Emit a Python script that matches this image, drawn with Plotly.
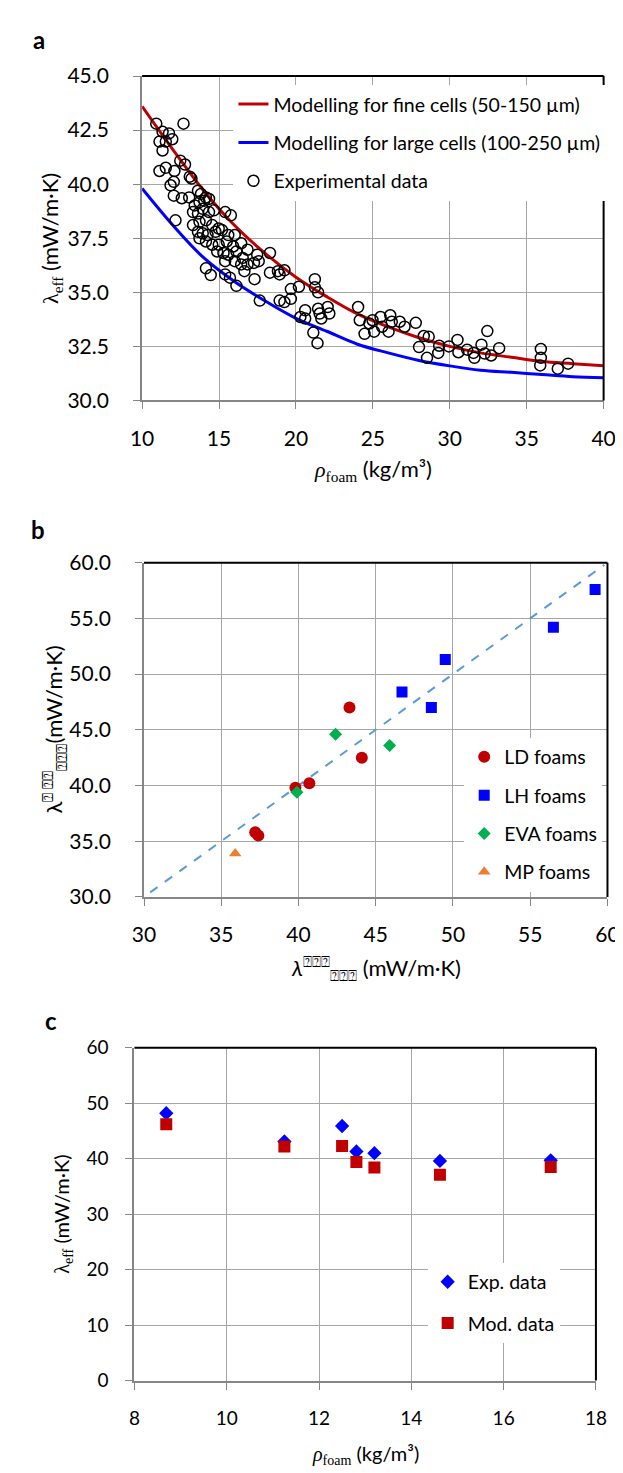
import plotly.graph_objects as go

W, H = 623, 1473

# ---- panel a: density vs effective conductivity ----
rho_exp = [10.92, 12.69, 11.33, 11.75, 11.96, 11.13, 11.54, 11.33, 12.48, 12.79,
           11.13, 11.54, 12.10, 13.10, 13.21, 11.85, 12.06, 12.06, 12.58, 13.06,
           13.63, 13.83, 14.15, 13.42, 13.73, 14.04, 14.35, 13.31, 13.63, 13.94,
           14.35, 14.67, 15.40, 15.77, 12.17, 13.31, 13.73, 14.15, 14.56, 14.98,
           13.63, 13.94, 14.25, 14.77, 15.19, 15.60, 16.02, 13.73, 14.15, 14.56,
           14.98, 15.50, 15.92, 16.44, 16.85, 17.48, 18.31, 14.88, 15.29, 15.60,
           16.13, 16.54, 15.40, 16.02, 16.44, 16.85, 17.27, 17.58, 18.31, 18.83,
           19.25, 18.94, 16.65, 14.15, 14.46, 15.40, 15.71, 16.13, 17.31, 19.67,
           20.19, 17.65, 18.94, 19.25, 19.67, 20.60, 20.29, 20.60,
           21.23, 21.23, 21.44, 21.44, 21.54, 22.06, 22.17, 21.65, 21.13, 21.40,
           24.04, 24.15, 24.46, 24.77, 24.98, 25.08, 25.50, 25.60, 26.02, 26.13,
           26.23, 26.75, 27.06, 27.79, 28.31, 28.63, 28.00, 28.52,
           29.25, 29.31, 29.94, 30.50, 30.56, 31.13, 31.54, 31.60, 32.06, 32.44,
           32.27, 32.69, 33.21, 35.92, 35.92, 35.88, 37.02, 37.69]
lam_exp = [42.80, 42.80, 42.42, 42.35, 42.08, 41.97, 41.97, 41.56, 41.09, 40.91,
           40.61, 40.76, 40.61, 40.35, 40.26, 39.95, 40.11, 39.47, 39.35, 39.39,
           39.70, 39.55, 39.39, 39.02, 39.17, 39.24, 39.32, 38.71, 38.64, 38.86,
           38.71, 38.79, 38.71, 38.56, 38.33, 38.11, 38.26, 38.33, 38.11, 37.95,
           37.80, 37.73, 37.65, 37.80, 37.88, 37.65, 37.65, 37.50, 37.35, 37.20,
           37.20, 37.35, 37.12, 37.27, 36.97, 36.74, 36.82, 36.89, 36.82, 36.74,
           36.89, 36.59, 36.44, 36.44, 36.29, 36.29, 36.36, 36.44, 35.91, 35.98,
           36.02, 35.83, 35.98, 36.11, 35.80, 35.83, 35.68, 35.30, 35.61, 35.15,
           35.26, 34.62, 34.62, 34.55, 34.70, 34.17, 33.86, 33.79,
           35.61, 35.23, 35.00, 34.24, 34.02, 34.32, 34.02, 33.79, 33.14, 32.65,
           34.32, 33.71, 33.08, 33.56, 33.71, 33.18, 33.86, 33.41, 33.18, 33.94,
           33.64, 33.64, 33.41, 33.59, 32.98, 32.95, 32.47, 31.97,
           32.20, 32.53, 32.50, 32.80, 32.23, 32.35, 32.20, 31.97, 32.58, 33.21,
           32.17, 32.08, 32.42, 32.38, 31.97, 31.62, 31.47, 31.70]

rho_model = [10, 12, 14, 16, 18, 20, 22, 24, 26, 28, 30, 32, 34, 36, 38, 40]
lam_fine = [43.6, 41.6, 39.7, 38.1, 36.8, 35.7, 34.8, 34.0, 33.4, 32.9, 32.5, 32.2,
            32.0, 31.8, 31.7, 31.6]
lam_large = [39.8, 38.1, 36.6, 35.5, 34.6, 33.8, 33.2, 32.6, 32.2, 31.85, 31.6, 31.4,
             31.3, 31.2, 31.1, 31.05]

# ---- panel b: measured vs modelled ----
ld_x = [43.3, 44.1, 40.7, 39.8, 37.2, 37.4]
ld_y = [47.0, 42.5, 40.2, 39.8, 35.8, 35.5]
lh_x = [59.2, 56.5, 49.5, 46.7, 48.6]
lh_y = [57.6, 54.2, 51.3, 48.4, 47.0]
eva_x = [42.4, 45.9, 39.9]
eva_y = [44.6, 43.6, 39.4]
mp_x = [35.9]
mp_y = [33.9]
parity = [30.4, 59.8]

# ---- panel c ----
rho_c = [8.69, 11.25, 12.5, 12.81, 13.2, 14.62, 17.02]
lam_c_exp = [48.2, 43.1, 45.9, 41.3, 41.0, 39.6, 39.7]
lam_c_mod = [46.2, 42.2, 42.3, 39.4, 38.4, 37.1, 38.5]

FONT = "Lato"
SERIF = "Liberation Serif"


def dom_x(p0, p1):
    return [p0 / W, p1 / W]


def dom_y(top, bottom):
    return [1 - bottom / H, 1 - top / H]


fig = go.Figure()

fig.add_trace(go.Scatter(x=rho_model, y=lam_fine, mode="lines", line=dict(color="#c00000", width=3, shape="spline"),
                         name="Modelling for fine cells (50-150 µm)", xaxis="x", yaxis="y",
                         legend="legend", legendgroup="a1"))
fig.add_trace(go.Scatter(x=rho_model, y=lam_large, mode="lines", line=dict(color="#0000ff", width=3, shape="spline"),
                         name="Modelling for large cells (100-250 µm)", xaxis="x", yaxis="y",
                         legend="legend", legendgroup="a2"))
fig.add_trace(go.Scatter(x=rho_exp, y=lam_exp, mode="markers",
                         marker=dict(symbol="circle-open", size=11, color="black", line=dict(width=1.5)),
                         name="Experimental data", xaxis="x", yaxis="y", legend="legend", legendgroup="a3"))

fig.add_trace(go.Scatter(x=parity, y=parity, mode="lines", line=dict(color="#5b9bd5", width=2, dash="dash"),
                         showlegend=False, xaxis="x2", yaxis="y2"))
fig.add_trace(go.Scatter(x=ld_x, y=ld_y, mode="markers", marker=dict(symbol="circle", size=12, color="#c00000"),
                         name="LD foams", xaxis="x2", yaxis="y2", legend="legend2", legendgroup="b1"))
fig.add_trace(go.Scatter(x=lh_x, y=lh_y, mode="markers", marker=dict(symbol="square", size=11, color="#0000ff"),
                         name="LH foams", xaxis="x2", yaxis="y2", legend="legend2", legendgroup="b2"))
fig.add_trace(go.Scatter(x=eva_x, y=eva_y, mode="markers", marker=dict(symbol="diamond", size=10, color="#00b050"),
                         name="EVA foams", xaxis="x2", yaxis="y2", legend="legend2", legendgroup="b3"))
fig.add_trace(go.Scatter(x=mp_x, y=mp_y, mode="markers", marker=dict(symbol="triangle-up", size=11, color="#ed7d31"),
                         name="MP foams", xaxis="x2", yaxis="y2", legend="legend2", legendgroup="b4"))

fig.add_trace(go.Scatter(x=rho_c, y=lam_c_exp, mode="markers", marker=dict(symbol="diamond", size=11, color="#0000ff"),
                         name="Exp. data", xaxis="x3", yaxis="y3", legend="legend3", legendgroup="c1"))
fig.add_trace(go.Scatter(x=rho_c, y=lam_c_mod, mode="markers", marker=dict(symbol="square", size=12, color="#c00000"),
                         name="Mod. data", xaxis="x3", yaxis="y3", legend="legend3", legendgroup="c2"))

grid = dict(showgrid=True, gridcolor="#a6a6a6", gridwidth=1.3, showline=True, linecolor="#868686",
            linewidth=2, ticks="outside", ticklen=7, tickcolor="#868686", tickwidth=1.3,
            zeroline=False, tickfont=dict(family=FONT, size=21, color="black"))
grid_c = dict(grid, tickfont=dict(family=FONT, size=19, color="black"))

legend_style = dict(bgcolor="white", borderwidth=0, xanchor="left", yanchor="top",
                    traceorder="grouped")

fig.update_layout(
    width=W, height=H, margin=dict(l=0, r=0, t=0, b=0),
    paper_bgcolor="white", plot_bgcolor="white",
    font=dict(family=FONT, color="black"),
    xaxis=dict(grid, domain=dom_x(127, 607), range=[10, 40], dtick=5, anchor="y", ticklabelstandoff=11),
    yaxis=dict(grid, domain=dom_y(55, 385), range=[30, 45], dtick=2.5, tickformat=".1f", anchor="x",
               ticklabelstandoff=20),
    xaxis2=dict(grid, domain=dom_x(129, 611), range=[30, 60], dtick=5, anchor="y2", ticklabelstandoff=11),
    yaxis2=dict(grid, domain=dom_y(550, 890), range=[30, 60], dtick=5, tickformat=".1f", anchor="x2",
                ticklabelstandoff=20),
    xaxis3=dict(grid_c, domain=dom_x(119, 599), range=[8, 18], dtick=2, anchor="y3", ticklabelstandoff=13),
    yaxis3=dict(grid_c, domain=dom_y(1043.5, 1382), range=[0, 60], dtick=10, anchor="x3",
                ticklabelstandoff=13),
    legend=dict(legend_style, x=222 / W, y=1 - 64 / H, font=dict(family=FONT, size=19.5),
                tracegroupgap=10, itemwidth=30),
    legend2=dict(legend_style, x=462 / W, y=1 - 728 / H, font=dict(family=FONT, size=19.5),
                 tracegroupgap=10, itemwidth=30),
    legend3=dict(legend_style, x=424 / W, y=1 - 1262 / H, font=dict(family=FONT, size=19.5),
                 tracegroupgap=13, itemwidth=30),
    showlegend=True,
)

# black top/right frame on each panel
for ax in ["", "2", "3"]:
    for x0, x1, y0, y1 in [(0, 1, 1, 1), (1, 1, 0, 1)]:
        fig.add_shape(type="line", xref=f"x{ax} domain", yref=f"y{ax} domain",
                      x0=x0, x1=x1, y0=y0, y1=y1, line=dict(color="black", width=2), layer="above")


def note(text, x, y, size=21, angle=0, bold=False):
    fig.add_annotation(text=f"<b>{text}</b>" if bold else text, x=x / W, y=1 - y / H,
                       xref="paper", yref="paper", showarrow=False, textangle=angle,
                       font=dict(family=FONT, size=size, color="black"), xanchor="center", yanchor="middle")


rho_lbl = f'<span style="font-family:{SERIF}"><i>ρ</i><sub>foam</sub></span> (kg/m³)'
lam_eff = f'<span style="font-family:{SERIF}">λ<sub>eff</sub></span> (mW/m·K)'

note("a", 20, 18, size=24, bold=True)
note("b", 19, 516, size=24, bold=True)
note("c", 32, 1016, size=24, bold=True)

note(rho_lbl, 367, 456, size=22)
note(lam_eff, 33, 220, size=22, angle=-90)

note("<i>λ</i><sup>⍰⍰⍰</sup><sub>⍰⍰⍰</sub> (mW/m·K)", 370, 962, size=22)
note("λ<sup>⍰ ⍰⍰</sup><sub>⍰⍰⍰</sub>(mW/m·K)", 35, 720, size=22, angle=-90)

note(rho_lbl, 359, 1457, size=20)
note(lam_eff, 44, 1213, size=20, angle=-90)

fig.write_html("out.html")
